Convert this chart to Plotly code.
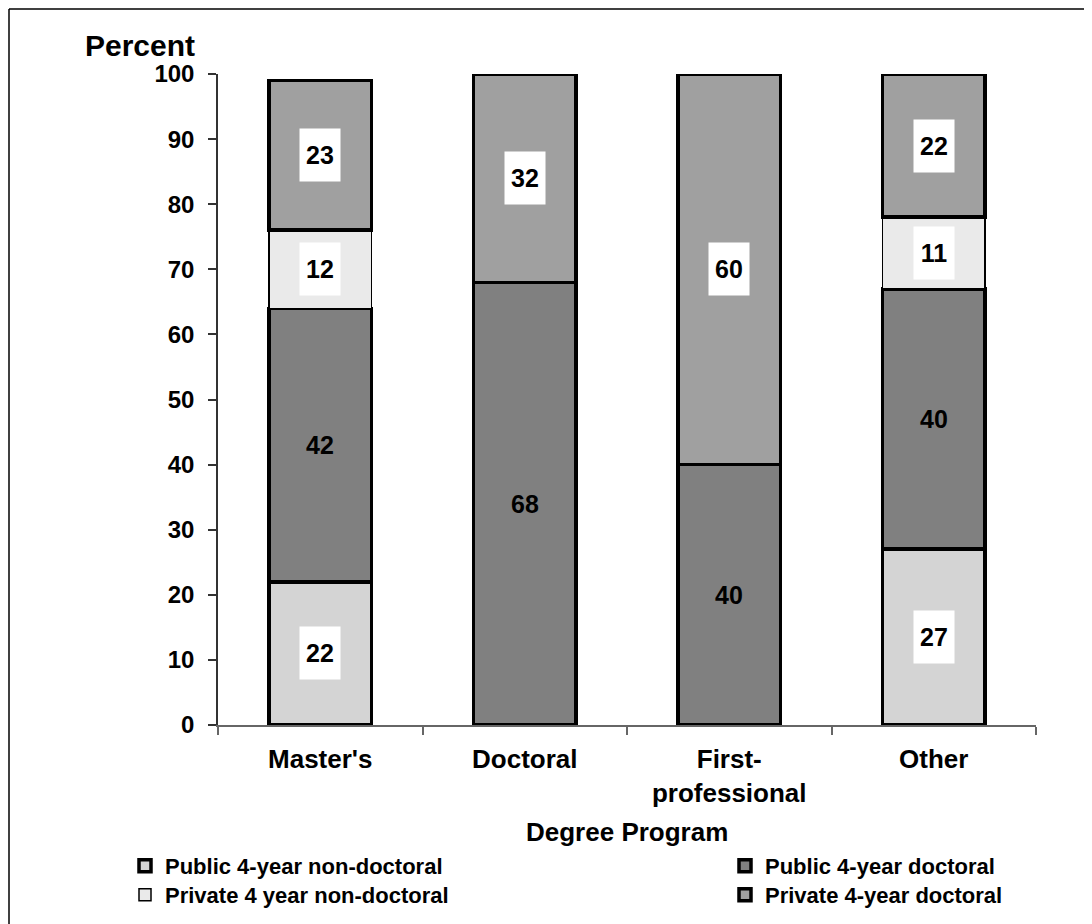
import plotly.graph_objects as go

categories = ["Master's", "Doctoral", "First-<br>professional", "Other"]
series_names = ["Public 4-year non-doctoral", "Public 4-year doctoral",
                "Private 4 year non-doctoral", "Private 4-year doctoral"]
pub_nondoc = [22, 0, 0, 27]
pub_doc = [42, 68, 40, 40]
priv_nondoc = [12, 0, 0, 11]
priv_doc = [23, 32, 60, 22]
y_ticks = [0, 10, 20, 30, 40, 50, 60, 70, 80, 90, 100]

series_values = [pub_nondoc, pub_doc, priv_nondoc, priv_doc]
colors = ["#D4D4D4", "#808080", "#EAEAEA", "#A0A0A0"]
line_widths = [3.5, 3.5, 1.5, 3.5]
legends = ["legend", "legend2", "legend3", "legend4"]

FONT = "Liberation Sans, Arial, sans-serif"
OFF = 8  # page offset of the figure inside the browser window

# target positions on the page (pixels)
L, R, T, B = 218, 1036, 74, 725
W, H = R - L, B - T


def px(x):
    return (x - L) / W


def py(y):
    return (B - y) / H


fig = go.Figure()
for name, vals, col, lw, lg in zip(series_names, series_values, colors, line_widths, legends):
    fig.add_trace(go.Bar(
        x=categories, y=vals, name=name, width=0.5,
        marker=dict(color=col, line=dict(color="black", width=lw)),
        legend=lg, hoverinfo="skip",
    ))

# value labels
annotations = []
base = [0] * len(categories)
for i, vals in enumerate(series_values):
    for j, v in enumerate(vals):
        if v > 0:
            a = dict(x=categories[j], y=base[j] + v / 2, text=str(v), showarrow=False,
                     font=dict(family=FONT, size=25, color="black", weight="bold"))
            if i != 1:
                a.update(bgcolor="white", width=38, height=50, borderpad=1)
            annotations.append(a)
        base[j] += v

annotations.append(dict(xref="paper", yref="paper", x=px(197), y=py(45), xanchor="right",
                        yanchor="middle", text="Percent", showarrow=False,
                        font=dict(family=FONT, size=30, color="black", weight="bold")))
annotations.append(dict(xref="paper", yref="paper", x=px(627), y=py(832), xanchor="center",
                        yanchor="middle", text="Degree Program", showarrow=False,
                        font=dict(family=FONT, size=26, color="black", weight="bold")))

leg_font = dict(family=FONT, size=22, color="black", weight="bold")
leg_common = dict(xanchor="left", yanchor="middle", bgcolor="rgba(0,0,0,0)",
                  font=leg_font, itemwidth=30, borderwidth=0)

fig.update_layout(
    barmode="stack",
    width=1092, height=924,
    margin=dict(l=L - OFF, r=1092 - (R - OFF), t=T - OFF, b=924 - (B - OFF), autoexpand=False),
    paper_bgcolor="white", plot_bgcolor="white",
    annotations=annotations,
    showlegend=True,
    legend=dict(x=px(125), y=py(866), **leg_common),
    legend2=dict(x=px(725), y=py(866), **leg_common),
    legend3=dict(x=px(125), y=py(895), **leg_common),
    legend4=dict(x=px(725), y=py(895), **leg_common),
    xaxis=dict(showline=True, linecolor="#666666", linewidth=1.5, ticks="outside",
               tickson="boundaries", ticklen=8, tickcolor="#666666", tickwidth=1.5,
               showgrid=False, zeroline=False,
               tickfont=dict(family=FONT, size=26, color="black", weight="bold"),
               ticklabelstandoff=10),
    yaxis=dict(range=[0, 100], tickvals=y_ticks, showline=True, linecolor="#333333",
               linewidth=1.5, ticks="outside", ticklen=8, tickcolor="#333333", tickwidth=1.5,
               showgrid=False, zeroline=False,
               tickfont=dict(family=FONT, size=24, color="black", weight="bold"),
               ticklabelstandoff=9),
    shapes=[
        dict(type="line", xref="paper", yref="paper", x0=px(9), x1=px(1100), y0=py(9), y1=py(9),
             line=dict(color="black", width=1.5)),
        dict(type="line", xref="paper", yref="paper", x0=px(9), x1=px(9), y0=py(9), y1=py(940),
             line=dict(color="black", width=1.5)),
    ],
)

fig.write_html("out.html")
